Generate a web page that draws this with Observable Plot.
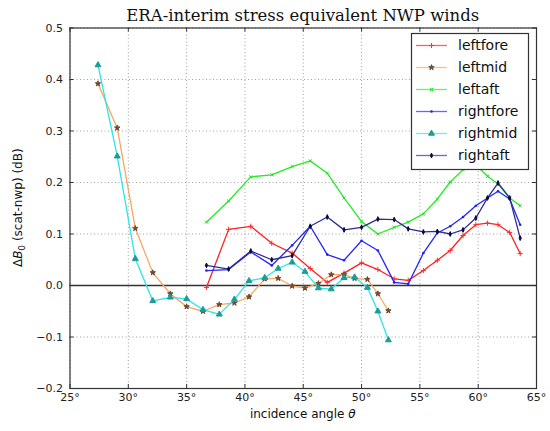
<!DOCTYPE html>
<html><head><meta charset="utf-8">
<script src="https://cdn.jsdelivr.net/npm/d3@7"></script>
<script src="https://cdn.jsdelivr.net/npm/@observablehq/plot@0.6"></script>
<style>body{margin:0;background:#fff}</style>
</head><body><div id="chart"></div>
<script>
// ---- data ----
const title = "ERA-interim stress equivalent NWP winds";
const xTicks = [25, 30, 35, 40, 45, 50, 55, 60, 65];
const yTicks = [-0.2, -0.1, 0.0, 0.1, 0.2, 0.3, 0.4, 0.5];
const seriesNames = ["leftfore", "leftmid", "leftaft", "rightfore", "rightmid", "rightaft"];

const foreAftAngles = [36.7, 38.6, 40.5, 42.3, 44.05, 45.6, 47.06, 48.5, 50.0, 51.4, 52.8, 54.0, 55.3, 56.5, 57.6, 58.7, 59.8, 60.8, 61.7, 62.7, 63.6];
const midAngles = [27.4, 29.05, 30.6, 32.1, 33.6, 35.0, 36.4, 37.8, 39.1, 40.35, 41.7, 42.85, 44.05, 45.15, 46.3, 47.4, 48.5, 49.4, 50.5, 51.4, 52.3];

const leftfore = [-0.004, 0.109, 0.115, 0.082, 0.063, 0.033, 0.006, 0.024, 0.044, 0.031, 0.013, 0.010, 0.029, 0.049, 0.068, 0.097, 0.118, 0.121, 0.118, 0.103, 0.062];
const leftmid = [0.392, 0.306, 0.111, 0.025, -0.016, -0.041, -0.050, -0.037, -0.034, -0.022, 0.013, 0.014, -0.001, -0.005, 0.004, 0.021, 0.021, 0.014, 0.012, -0.016, -0.049];
const leftaft = [0.123, 0.164, 0.211, 0.215, 0.231, 0.242, 0.218, 0.170, 0.124, 0.100, 0.113, 0.123, 0.139, 0.168, 0.201, 0.225, 0.234, 0.212, 0.197, 0.170, 0.155];
const rightfore = [0.029, 0.031, 0.065, 0.039, 0.078, 0.115, 0.060, 0.049, 0.087, 0.068, 0.006, 0.003, 0.063, 0.102, 0.115, 0.133, 0.155, 0.170, 0.183, 0.168, 0.118];
const rightmid = [0.428, 0.251, 0.052, -0.030, -0.023, -0.026, -0.047, -0.056, -0.027, 0.009, 0.015, 0.033, 0.045, 0.027, -0.005, -0.007, 0.015, 0.016, -0.004, -0.050, -0.106];
const rightaft = [0.039, 0.032, 0.067, 0.050, 0.058, 0.115, 0.133, 0.108, 0.113, 0.129, 0.128, 0.110, 0.104, 0.105, 0.100, 0.108, 0.131, 0.170, 0.199, 0.170, 0.092];

// ---- styles ----
const thinDiamond = {
  draw(ctx, size) {
    const r = Math.sqrt(size) / 2;
    ctx.moveTo(0, -r * 1.3); ctx.lineTo(r * 0.6, 0); ctx.lineTo(0, r * 1.3); ctx.lineTo(-r * 0.6, 0); ctx.closePath();
  }
};
const styles = {
  leftfore:  {angles: foreAftAngles, values: leftfore,  line: "#ff2020", symbol: "plus",     mfill: "none",    mstroke: "#ff3030", r: 1.8},
  leftmid:   {angles: midAngles,     values: leftmid,   line: "#f5a862", symbol: "star",     mfill: "#6e4a2e", mstroke: "#6e4a2e", r: 1.7},
  leftaft:   {angles: foreAftAngles, values: leftaft,   line: "#22ee22", symbol: "times",    mfill: "none",    mstroke: "#22dd22", r: 1.5},
  rightfore: {angles: foreAftAngles, values: rightfore, line: "#2525ff", symbol: "circle",   mfill: "#2020ee", mstroke: "none",    r: 1.3},
  rightmid:  {angles: midAngles,     values: rightmid,  line: "#2ce6e6", symbol: "triangle", mfill: "#1e9a9a", mstroke: "#1e9a9a", r: 2.2},
  rightaft:  {angles: foreAftAngles, values: rightaft,  line: "#2e2e8e", symbol: thinDiamond, mfill: "#0a0a3a", mstroke: "#0a0a3a", r: 2.1}
};

const W = 550, H = 431, mL = 69.5, mR = 14, mT = 27.5, mB = 43;
const pw = W - mL - mR, ph = H - mT - mB;

const marks = [
  Plot.gridX(xTicks, {stroke: "#888", strokeOpacity: 1, strokeWidth: 0.8, strokeDasharray: "1,2.5"}),
  Plot.gridY(yTicks, {stroke: "#888", strokeOpacity: 1, strokeWidth: 0.8, strokeDasharray: "1,2.5"}),
  Plot.ruleY([0], {stroke: "#333", strokeWidth: 1.6})
];
for (const name of seriesNames) {
  const s = styles[name];
  const rows = s.values.map((v, i) => ({x: s.angles[i], y: v}));
  marks.push(Plot.line(rows, {x: "x", y: "y", stroke: s.line, strokeWidth: 1.3}));
  marks.push(Plot.dot(rows, {x: "x", y: "y", symbol: s.symbol, r: s.r, fill: s.mfill, stroke: s.mstroke, strokeWidth: 1}));
}
marks.push(
  Plot.tickX(xTicks, {x: d => d, insetTop: ph - 4, stroke: "#333"}),
  Plot.tickX(xTicks, {x: d => d, insetBottom: ph - 4, stroke: "#333"}),
  Plot.tickY(yTicks, {y: d => d, insetRight: pw - 4, stroke: "#333"}),
  Plot.tickY(yTicks, {y: d => d, insetLeft: pw - 4, stroke: "#333"}),
  Plot.frame({stroke: "#333", strokeWidth: 1.2}),
  Plot.axisX(xTicks, {tickSize: 0, tickPadding: 5, tickFormat: d => d + "°", label: null, fontSize: 11, fill: "#222"}),
  Plot.axisY(yTicks, {tickSize: 0, tickPadding: 7, tickFormat: d3.format(".1f"), label: null, fontSize: 11, fill: "#222"})
);

const chart = Plot.plot({
  width: W, height: H, marginLeft: mL, marginRight: mR, marginTop: mT, marginBottom: mB,
  x: {domain: [25, 65]},
  y: {domain: [-0.2, 0.5]},
  style: {fontFamily: "DejaVu Sans", background: "white", color: "#222"},
  marks
});
document.getElementById("chart").appendChild(chart);

const svg = d3.select(chart);
// title
svg.append("text").attr("x", mL + pw / 2).attr("y", 21).attr("text-anchor", "middle")
  .attr("font-family", "DejaVu Serif").attr("font-size", 16.5).attr("fill", "#111").text(title);
// x label
const xl = svg.append("text").attr("x", mL + pw / 2).attr("y", 418).attr("text-anchor", "middle")
  .attr("font-family", "DejaVu Sans").attr("font-size", 12).attr("fill", "#111");
xl.append("tspan").text("incidence angle ");
xl.append("tspan").attr("font-style", "italic").text("θ");
// y label
const yl = svg.append("text").attr("transform", `translate(22,${mT + ph / 2}) rotate(-90)`).attr("text-anchor", "middle")
  .attr("font-family", "DejaVu Sans").attr("font-size", 12).attr("fill", "#111");
yl.append("tspan").text("Δ");
yl.append("tspan").attr("font-style", "italic").text("B");
yl.append("tspan").attr("dy", 3).attr("font-size", 9).text("0");
yl.append("tspan").attr("dy", -3).text(" (scat-nwp) (dB)");

// legend
const lg = svg.append("g").attr("text-anchor", "start");
lg.append("rect").attr("x", 411.5).attr("y", 33.5).attr("width", 117).attr("height", 136)
  .attr("fill", "white").attr("stroke", "#333").attr("stroke-width", 1.2);
const symMap = {plus: d3.symbolPlus, star: d3.symbolStar, times: d3.symbolTimes, circle: d3.symbolCircle, triangle: d3.symbolTriangle};
seriesNames.forEach((name, i) => {
  const s = styles[name];
  const y = 45.5 + i * 22;
  lg.append("line").attr("x1", 416).attr("x2", 447).attr("y1", y).attr("y2", y)
    .attr("stroke", s.line).attr("stroke-width", 1.3).attr("opacity", 0.7);
  const type = typeof s.symbol === "string" ? symMap[s.symbol] : s.symbol;
  lg.append("path").attr("transform", `translate(431.5,${y})`)
    .attr("d", d3.symbol(type, Math.PI * s.r * s.r)())
    .attr("fill", s.mfill).attr("stroke", s.mstroke);
  lg.append("text").attr("x", 458).attr("y", y).attr("dy", "0.35em").attr("text-anchor", "start")
    .attr("font-family", "DejaVu Sans").attr("font-size", 14).attr("fill", "#111").text(name);
});
</script></body></html>
